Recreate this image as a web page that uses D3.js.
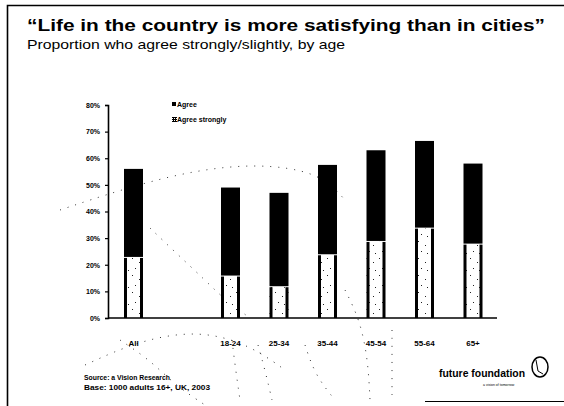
<!DOCTYPE html>
<html>
<head>
<meta charset="utf-8">
<script src="https://cdn.jsdelivr.net/npm/d3@7/dist/d3.min.js"></script>
<style>
  html, body { margin: 0; padding: 0; background: #fff; }
  svg { display: block; }
  text { font-family: "Liberation Sans", Arial, sans-serif; fill: #000; }
</style>
</head>
<body>
<div id="chart"></div>
<script>
// Survey: "Life in the country is more satisfying than in cities"
const categories = ["All", "", "18-24", "25-34", "35-44", "45-54", "55-64", "65+"];
const agreeStrongly = [22, null, 15, 11, 23, 28, 33, 27];
const agree = [34, null, 34, 36, 34.5, 35, 33.5, 31];
const yTicks = [0, 10, 20, 30, 40, 50, 60, 70, 80];
const seriesNames = ["Agree", "Agree strongly"];

const W = 564, H = 406;
const svg = d3.select("#chart").append("svg").attr("width", W).attr("height", H);

// sparse speckled fill for the "agree strongly" segment
const defs = svg.append("defs");
const pat = defs.append("pattern").attr("id", "speckle").attr("patternUnits", "userSpaceOnUse")
  .attr("width", 13).attr("height", 17);
pat.append("rect").attr("width", 13).attr("height", 17).attr("fill", "#fff");
[[2, 3], [9, 7], [5, 13], [11, 15]].forEach(([cx, cy]) =>
  pat.append("rect").attr("x", cx).attr("y", cy).attr("width", 1).attr("height", 1).attr("fill", "#222"));
const hatch = defs.append("pattern").attr("id", "hatch").attr("patternUnits", "userSpaceOnUse")
  .attr("width", 2).attr("height", 2);
hatch.append("rect").attr("width", 2).attr("height", 2).attr("fill", "#000");
hatch.append("rect").attr("width", 1).attr("height", 1).attr("fill", "#fff");

// frame
svg.append("path").attr("d", "M7.5,406 V5.5 H564").attr("fill", "none").attr("stroke", "#000").attr("stroke-width", 1.6);
svg.append("line").attr("x1", 425).attr("x2", 564).attr("y1", 401.5).attr("y2", 401.5)
  .attr("stroke", "#000").attr("stroke-width", 1.2);

// titles
svg.append("text").attr("x", 27).attr("y", 31).attr("font-size", 17).attr("font-weight", "bold")
  .attr("textLength", 518).attr("lengthAdjust", "spacingAndGlyphs")
  .text("\u201CLife in the country is more satisfying than in cities\u201D");
svg.append("text").attr("x", 27).attr("y", 49).attr("font-size", 13.5)
  .attr("textLength", 318).attr("lengthAdjust", "spacingAndGlyphs")
  .text("Proportion who agree strongly/slightly, by age");

// faint dotted globe lines in the background
const globe = svg.append("g").attr("fill", "none").attr("stroke", "#000").attr("stroke-width", 1)
  .attr("stroke-dasharray", "1 7").attr("opacity", 0.8);
const ln = d3.line().curve(d3.curveBasis);
[
  [[60, 210], [120, 190], [185, 172], [255, 163], [320, 172], [345, 200]],
  [[150, 228], [175, 252], [205, 280], [225, 300], [250, 318]],
  [[120, 340], [150, 360], [175, 385], [205, 405]],
  [[85, 365], [140, 340], [200, 330], [250, 345], [285, 370]],
  [[232, 340], [235, 365], [240, 400]],
  [[258, 345], [265, 370], [272, 400]],
  [[305, 345], [315, 375], [335, 400]],
  [[345, 290], [360, 320], [368, 360], [370, 400]],
  [[392, 330], [392, 370], [392, 400]]
].forEach(pts => globe.append("path").attr("d", ln(pts)));

// scales
const y = d3.scaleLinear().domain([0, 80]).range([318, 105]);
const x = d3.scalePoint().domain(categories).range([133.5, 473]);
const bw = 19;

// y axis
const yAxis = svg.append("g").attr("transform", "translate(108,0)")
  .call(d3.axisLeft(y).tickValues(yTicks).tickSize(3).tickFormat(d => d + "%"));
yAxis.select(".domain").attr("stroke", "#000").attr("stroke-width", 1.6);
yAxis.selectAll(".tick line").attr("stroke", "#000").attr("stroke-width", 1.2);
yAxis.selectAll(".tick text").attr("x", -8).attr("font-size", 7).attr("font-weight", "bold")
  .attr("font-family", "'Liberation Sans Narrow', 'Liberation Sans', sans-serif");

const rows = categories.map((c, i) => ({ c, s: agreeStrongly[i], a: agree[i] })).filter(d => d.s != null);

// agree strongly (lower, speckled with dark side edges)
const low = svg.append("g");
rows.forEach(d => {
  const x0 = x(d.c) - bw / 2;
  low.append("rect").attr("x", x0).attr("y", y(d.s) - 1.5).attr("width", bw)
    .attr("height", y(0) - y(d.s) + 1.5).attr("fill", "url(#speckle)");
  [x0 + 1.5, x0 + bw - 1.5].forEach(lx =>
    low.append("rect").attr("x", lx - 1.5).attr("y", y(d.s) - 1.5).attr("width", 3)
      .attr("height", y(0) - y(d.s) + 1.5).attr("fill", "#000"));
});

// agree (upper, solid black)
svg.append("g").selectAll("rect").data(rows).join("rect")
  .attr("x", d => x(d.c) - bw / 2)
  .attr("y", d => y(d.s + d.a))
  .attr("width", bw)
  .attr("height", d => y(d.s) - y(d.s + d.a) - 2.5)
  .attr("fill", "#000");

// baseline
svg.append("line").attr("x1", 108).attr("x2", 497).attr("y1", y(0)).attr("y2", y(0))
  .attr("stroke", "#000").attr("stroke-width", 1.6);

// category labels
svg.append("g").selectAll("text").data(categories.filter(c => c !== "")).join("text")
  .attr("x", d => x(d)).attr("y", 346).attr("text-anchor", "middle")
  .attr("font-size", 8).attr("font-weight", "bold")
  .attr("font-family", "'Liberation Sans Narrow', 'Liberation Sans', sans-serif")
  .text(d => d);

// legend
const lg = svg.append("g").attr("transform", "translate(172,0)");
lg.append("rect").attr("x", 0).attr("y", 102).attr("width", 4).attr("height", 4).attr("fill", "#000");
lg.append("rect").attr("x", 0).attr("y", 117).attr("width", 5).attr("height", 5).attr("fill", "url(#hatch)");
lg.selectAll("text").data(seriesNames).join("text")
  .attr("x", 5).attr("y", (d, i) => 107 + i * 15)
  .attr("font-size", 7).attr("font-weight", "bold")
  .attr("font-family", "'Liberation Sans Narrow', 'Liberation Sans', sans-serif")
  .text(d => d);

// source notes
const src = svg.append("g").attr("font-size", 6.8).attr("font-weight", "bold");
src.append("text").attr("x", 84).attr("y", 380).attr("textLength", 86).attr("lengthAdjust", "spacingAndGlyphs")
  .text("Source: a Vision Research");
src.append("text").attr("x", 84).attr("y", 390).attr("textLength", 126).attr("lengthAdjust", "spacingAndGlyphs")
  .text("Base: 1000 adults 16+, UK, 2003");

// logo
const logo = svg.append("g");
logo.append("text").attr("x", 439).attr("y", 377).attr("font-size", 11)
  .attr("font-family", "'Liberation Serif', serif").attr("font-weight", "bold")
  .attr("textLength", 86).attr("lengthAdjust", "spacingAndGlyphs")
  .text("future foundation");
logo.append("text").attr("x", 483).attr("y", 386).attr("font-size", 3.5).text("a vision of tomorrow");
logo.append("ellipse").attr("cx", 540).attr("cy", 367).attr("rx", 8).attr("ry", 10)
  .attr("fill", "none").attr("stroke", "#000").attr("stroke-width", 1.5);
logo.append("path").attr("d", "M536,360 L538,371 L543,374").attr("fill", "none").attr("stroke", "#000").attr("stroke-width", 1);
</script>
</body>
</html>
